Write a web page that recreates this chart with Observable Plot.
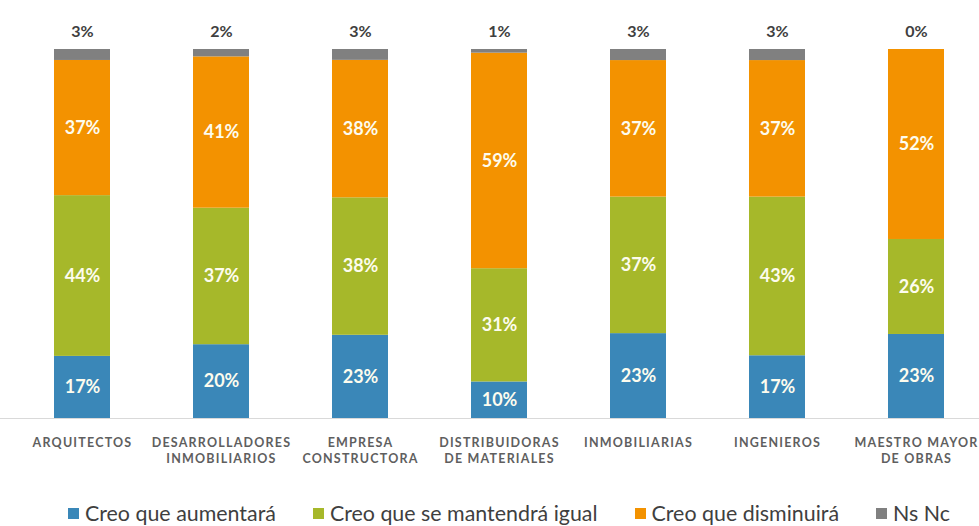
<!DOCTYPE html>
<html>
<head>
<meta charset="utf-8">
<script src="https://cdn.jsdelivr.net/npm/d3@7"></script>
<script src="https://cdn.jsdelivr.net/npm/@observablehq/plot@0.6"></script>
<style>
  html, body { margin: 0; padding: 0; background: #fff; overflow: hidden; }
  #chart { width: 979px; height: 470px; overflow: hidden; }
  #chart g[aria-label="x-axis tick label"] text { letter-spacing: 1.2px; }
  .legend { display: flex; align-items: center; height: 86px; padding-left: 68px; gap: 37px;
            font-family: Lato, "Open Sans", sans-serif; font-size: 21.4px; color: #3f3f3f; }
  .legend span.sw { display: inline-block; width: 11px; height: 11px; margin-right: 6px; }
  .legend .item { display: flex; align-items: center; white-space: nowrap; }
</style>
</head>
<body>
<div id="chart"></div>
<script>
const categories = ["ARQUITECTOS", "DESARROLLADORES INMOBILIARIOS", "EMPRESA CONSTRUCTORA", "DISTRIBUIDORAS DE MATERIALES", "INMOBILIARIAS", "INGENIEROS", "MAESTRO MAYOR DE OBRAS"];
const tickLabels = ["ARQUITECTOS", "DESARROLLADORES\nINMOBILIARIOS", "EMPRESA\nCONSTRUCTORA", "DISTRIBUIDORAS\nDE MATERIALES", "INMOBILIARIAS", "INGENIEROS", "MAESTRO MAYOR\nDE OBRAS"];
const seriesNames = ["Creo que aumentará", "Creo que se mantendrá igual", "Creo que disminuirá", "Ns Nc"];
const seriesColors = ["#3a87b8", "#a6b82a", "#f39200", "#808080"];
const aumentara = [17, 20, 23, 10, 23, 17, 23];
const mantendra = [44, 37, 38, 31, 37, 43, 26];
const disminuira = [37, 41, 38, 59, 37, 37, 52];
const nsnc = [3, 2, 3, 1, 3, 3, 0];

const seriesValues = [aumentara, mantendra, disminuira, nsnc];
const rows = [];
seriesNames.forEach((s, si) => {
  categories.forEach((c, ci) => rows.push({cat: c, series: s, value: seriesValues[si][ci]}));
});
const topRows = rows.filter(d => d.series === "Ns Nc");
const labelOf = new Map(categories.map((c, i) => [c, tickLabels[i]]));

const chart = Plot.plot({
  width: 979,
  height: 470,
  marginTop: 49,
  marginBottom: 52,
  marginLeft: 0,
  marginRight: 0,
  style: {fontFamily: "Lato, 'Open Sans', sans-serif", background: "#fff"},
  x: {domain: categories, range: [10, 988], paddingInner: 0.6, paddingOuter: 0.3, label: null},
  y: {domain: [0, 1], axis: null},
  color: {domain: seriesNames, range: seriesColors},
  marks: [
    Plot.barY(rows, Plot.stackY({offset: "normalize", x: "cat", y: "value", fill: "series", order: null})),
    Plot.ruleY([0], {stroke: "#d9d9d9", strokeWidth: 1.2}),
    Plot.text(rows, Plot.stackY({
      offset: "normalize", x: "cat", y: "value", z: "series", order: null,
      text: d => d.series === "Ns Nc" ? null : d.value + "%",
      fill: "#fdfcee", fontSize: 18, fontWeight: "bold"
    })),
    Plot.text(topRows, {x: "cat", y: () => 1, text: d => d.value + "%", dy: -18, fill: "#404040", fontSize: 16, fontWeight: "bold"}),
    Plot.axisX({tickSize: 0, tickPadding: 17, tickFormat: d => labelOf.get(d), fontSize: 12.5, fontWeight: "bold", fill: "#5f5f5f", lineHeight: 1.3, label: null})
  ]
});
document.getElementById("chart").appendChild(chart);

const legend = document.createElement("div");
legend.className = "legend";
seriesNames.forEach((s, i) => {
  const it = document.createElement("div");
  it.className = "item";
  const sw = document.createElement("span");
  sw.className = "sw";
  sw.style.background = seriesColors[i];
  it.appendChild(sw);
  it.appendChild(document.createTextNode(s));
  legend.appendChild(it);
});
document.body.appendChild(legend);
</script>
</body>
</html>
